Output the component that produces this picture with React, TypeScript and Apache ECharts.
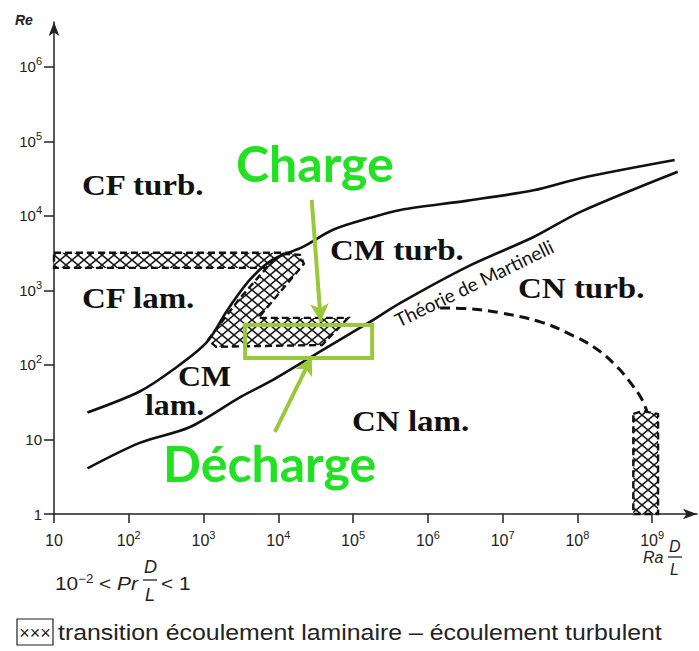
import React, { useEffect, useRef } from 'react';
import * as echarts from 'echarts';

// Axis ticks (decades, exponents of 10)
const xTickExps = [1, 2, 3, 4, 5, 6, 7, 8, 9];
const yTickExps = [0, 1, 2, 3, 4, 5, 6];

// Upper limit of mixed convection (CM) region
const upperRa = [28, 140, 390, 1100, 2100, 4200, 8500, 21000, 54000, 170000, 430000, 3.4e6, 2.6e7, 1.1e8, 2.0e9];
const upperRe = [23, 44, 86, 200, 550, 1400, 2600, 3800, 6500, 9400, 12000, 16000, 22000, 32000, 56000];

// Lower limit (Théorie de Martinelli)
const martRa = [28, 140, 660, 3100, 8500, 40000, 170000, 430000, 3.35e6, 2.6e7, 1.1e8, 2.2e9];
const martRe = [4.1, 9.0, 14.7, 37, 63, 160, 380, 680, 2070, 5200, 11300, 39000];

// Dashed CN laminar / turbulent boundary
const cnRa = [1.46e6, 3.7e6, 9.3e6, 3.2e7, 7.3e7, 1.73e8, 3.4e8, 5.4e8, 7.35e8, 8.6e8];
const cnRe = [580, 565, 500, 378, 269, 169, 94, 54, 34, 23];

// Transition zones (hatched)
const cfBandRa = [10, 14000, 17000, 15000, 9000, 10];
const cfBandRe = [3200, 3200, 2900, 2300, 2000, 2000];
const cmBandRa = [11600, 19500, 22000, 5400, 86000, 38500, 1470, 1150, 3080, 7760];
const cmBandRe = [3090, 3000, 2270, 427, 427, 185, 175, 217, 790, 2270];
const cnBandRa = [5.6e8, 7.5e8, 1.2e9, 1.2e9, 5.6e8];
const cnBandRe = [22, 24, 22, 1, 1];

// Green annotations
const boxRa = [3600, 180000];
const boxRe = [124, 344];
const chargeArrowRa = [28000, 37000];
const chargeArrowRe = [16400, 380];
const dechargeArrowRa = [9000, 28000];
const dechargeArrowRe = [12.6, 128];

const lg = (v: number) => Math.log10(v);
const toPts = (ra: number[], re: number[]) => ra.map((x, i) => [lg(x), lg(re[i])]);

const SANS = '"Liberation Sans", Arial, sans-serif';
const SERIF = '"Liberation Serif", "Times New Roman", serif';
const GREEN_TXT = '#22e022';
const GREEN_LINE = '#99c93a';

export default function App() {
  const ref = useRef<HTMLDivElement>(null);
  useEffect(() => {
    if (!ref.current) return;
    const chart = echarts.init(ref.current, null, { renderer: 'svg' });

    const W = 12, H = 10;
    const c = document.createElement('canvas');
    c.width = W; c.height = H;
    const ctx = c.getContext('2d')!;
    ctx.fillStyle = '#ffffff';
    ctx.fillRect(0, 0, W, H);
    ctx.strokeStyle = '#1a1a1a';
    ctx.lineWidth = 1.6;
    ctx.beginPath();
    ctx.moveTo(0, 0); ctx.lineTo(W, H);
    ctx.moveTo(W, 0); ctx.lineTo(0, H);
    ctx.stroke();
    const hatch: any = { image: c, repeat: 'repeat', imageWidth: W, imageHeight: H };

    const poly = (name: string, ra: number[], re: number[]) => ({
      type: 'custom',
      name,
      silent: true,
      z: 4,
      data: toPts(ra, re),
      renderItem: (params: any, api: any) => {
        if (params.dataIndex !== 0) return null;
        const pts = ra.map((x, i) => api.coord([lg(x), lg(re[i])]));
        return {
          type: 'polygon',
          shape: { points: pts },
          style: { fill: hatch, stroke: '#111', lineWidth: 2.4, lineDash: [7, 4] },
        };
      },
    });

    const supLabel = (v: number) => (v === 0 ? '1' : v === 1 ? '10' : `10{s|${v}}`);
    const labelRich = { s: { fontSize: 11, lineHeight: 10, verticalAlign: 'top', fontFamily: SANS, color: '#222' } };

    const curveStyle = { color: '#111', width: 2.6 };
    const serifLabel = (text: string, x: number, y: number) => ({
      type: 'text', x, y, scaleX: 1.1,
      style: { text, font: `bold 30px ${SERIF}`, fill: '#111', verticalAlign: 'middle' },
    });

    chart.setOption({
      animation: false,
      backgroundColor: '#ffffff',
      grid: { left: 54, right: 2, top: 22, bottom: 137, containLabel: false, outerBoundsMode: 'none' },
      xAxis: {
        type: 'value',
        min: 1,
        max: 9.6,
        interval: 1,
        splitLine: { show: false },
        axisLine: { show: true, symbol: ['none', 'arrow'], symbolSize: [8, 14], lineStyle: { color: '#222', width: 1.5 } },
        axisTick: { show: true, length: 9, inside: false, customValues: xTickExps, lineStyle: { color: '#222', width: 1.5 } },
        axisLabel: {
          customValues: xTickExps,
          formatter: supLabel,
          rich: labelRich,
          fontSize: 16,
          lineHeight: 22,
          fontFamily: SANS,
          color: '#222',
          margin: 15,
        },
      },
      yAxis: {
        type: 'value',
        min: 0,
        max: 6.6,
        interval: 1,
        splitLine: { show: false },
        axisLine: { show: true, symbol: ['none', 'arrow'], symbolSize: [8, 14], lineStyle: { color: '#222', width: 1.5 } },
        axisTick: { show: true, length: 10, inside: false, customValues: yTickExps, lineStyle: { color: '#222', width: 1.5 } },
        axisLabel: {
          customValues: yTickExps,
          formatter: supLabel,
          rich: labelRich,
          fontSize: 15,
          lineHeight: 22,
          fontFamily: SANS,
          color: '#222',
          margin: 12,
        },
      },
      series: [
        poly('cfBand', cfBandRa, cfBandRe),
        poly('cmBand', cmBandRa, cmBandRe),
        poly('cnBand', cnBandRa, cnBandRe),
        {
          type: 'line', name: 'upper', data: toPts(upperRa, upperRe), smooth: 0.3,
          showSymbol: false, symbol: 'none', lineStyle: curveStyle, z: 5, silent: true,
        },
        {
          type: 'line', name: 'martinelli', data: toPts(martRa, martRe), smooth: 0.3,
          showSymbol: false, symbol: 'none', lineStyle: curveStyle, z: 5, silent: true,
        },
        {
          type: 'line', name: 'cn', data: toPts(cnRa, cnRe), smooth: 0.4,
          showSymbol: false, symbol: 'none', lineStyle: { color: '#111', width: 3, type: [10, 6] }, z: 5, silent: true,
        },
        {
          type: 'line', name: 'annot', data: [], silent: true, z: 8,
          markArea: {
            silent: true,
            z: 10,
            itemStyle: { color: 'rgba(0,0,0,0)', borderColor: GREEN_LINE, borderWidth: 4 },
            label: { show: false },
            data: [[{ coord: [lg(boxRa[0]), lg(boxRe[1])] }, { coord: [lg(boxRa[1]), lg(boxRe[0])] }]],
          },
          markLine: {
            silent: true,
            z: 10,
            symbol: ['none', 'arrow'],
            symbolSize: [14, 18],
            label: { show: false },
            lineStyle: { color: GREEN_LINE, width: 4, type: 'solid' },
            data: [
              [{ coord: [lg(chargeArrowRa[0]), lg(chargeArrowRe[0])] }, { coord: [lg(chargeArrowRa[1]), lg(chargeArrowRe[1])] }],
              [{ coord: [lg(dechargeArrowRa[0]), lg(dechargeArrowRe[0])] }, { coord: [lg(dechargeArrowRa[1]), lg(dechargeArrowRe[1])] }],
            ],
          },
        },
      ],
      graphic: [
        { type: 'text', x: 15, y: 20, style: { text: 'Re', font: `italic bold 14px ${SANS}`, fill: '#222', verticalAlign: 'middle' } },
        { type: 'text', x: 643, y: 557, style: { text: 'Ra', font: `italic 16px ${SANS}`, fill: '#222', verticalAlign: 'middle' } },
        { type: 'text', x: 669, y: 546, style: { text: 'D', font: `italic 16px ${SANS}`, fill: '#222', verticalAlign: 'middle' } },
        { type: 'line', shape: { x1: 668, y1: 557, x2: 682, y2: 557 }, style: { stroke: '#222', lineWidth: 1.3 } },
        { type: 'text', x: 670, y: 569, style: { text: 'L', font: `italic 16px ${SANS}`, fill: '#222', verticalAlign: 'middle' } },

        // Regime labels
        serifLabel('CF turb.', 82, 185),
        serifLabel('CF lam.', 82, 298),
        serifLabel('CM turb.', 330, 250),
        serifLabel('CN turb.', 518, 288),
        serifLabel('CN lam.', 352, 421),
        {
          type: 'text', x: 145, y: 391, scaleX: 1.1,
          style: {
            text: '{a|CM}\n{b|lam.}',
            fill: '#111', verticalAlign: 'middle',
            rich: {
              a: { font: `bold 29px ${SERIF}`, lineHeight: 29, padding: [0, 0, 0, 30] },
              b: { font: `bold 29px ${SERIF}`, lineHeight: 29 },
            },
          },
        },
        {
          type: 'text', x: 474, y: 283, rotation: (26 * Math.PI) / 180,
          style: { text: 'Théorie de Martinelli', font: `19px Lato, sans-serif`, fill: '#111', align: 'center', verticalAlign: 'middle' },
        },

        // Green annotation texts
        { type: 'text', x: 236, y: 163, style: { text: 'Charge', font: `bold 50px Lato, sans-serif`, fill: GREEN_TXT, verticalAlign: 'middle' } },
        { type: 'text', x: 163, y: 463, style: { text: 'Décharge', font: `bold 50px Lato, sans-serif`, fill: GREEN_TXT, verticalAlign: 'middle' } },

        // Condition below the axis
        {
          type: 'text', x: 55, y: 583, scaleX: 1.1,
          style: {
            text: '10{s|−2} < {i|Pr}',
            font: `19px ${SANS}`, fill: '#222', verticalAlign: 'middle',
            rich: { s: { fontSize: 12, verticalAlign: 'top', lineHeight: 12, fontFamily: SANS }, i: { fontStyle: 'italic', fontSize: 19, fontFamily: SANS } },
          },
        },
        { type: 'text', x: 144, y: 567, style: { text: 'D', font: `italic 18px ${SANS}`, fill: '#222', verticalAlign: 'middle' } },
        { type: 'line', shape: { x1: 143, y1: 580, x2: 157, y2: 580 }, style: { stroke: '#222', lineWidth: 1.3 } },
        { type: 'text', x: 145, y: 595, style: { text: 'L', font: `italic 18px ${SANS}`, fill: '#222', verticalAlign: 'middle' } },
        { type: 'text', x: 161, y: 583, scaleX: 1.1, style: { text: '< 1', font: `19px ${SANS}`, fill: '#222', verticalAlign: 'middle' } },

        // Legend
        { type: 'rect', shape: { x: 17, y: 619, width: 36, height: 26 }, style: { fill: 'none', stroke: '#222', lineWidth: 1.2 } },
        { type: 'text', x: 35, y: 633, style: { text: '×××', font: `18px ${SANS}`, fill: '#222', align: 'center', verticalAlign: 'middle' } },
        {
          type: 'text', x: 58, y: 633, scaleX: 1.13,
          style: { text: 'transition écoulement laminaire – écoulement turbulent', font: `22px ${SANS}`, fill: '#222', verticalAlign: 'middle' },
        },
      ],
    });
    return () => chart.dispose();
  }, []);
  return <div ref={ref} style={{ position: 'fixed', left: 0, top: 0, width: 699, height: 651, background: '#fff' }} />;
}
